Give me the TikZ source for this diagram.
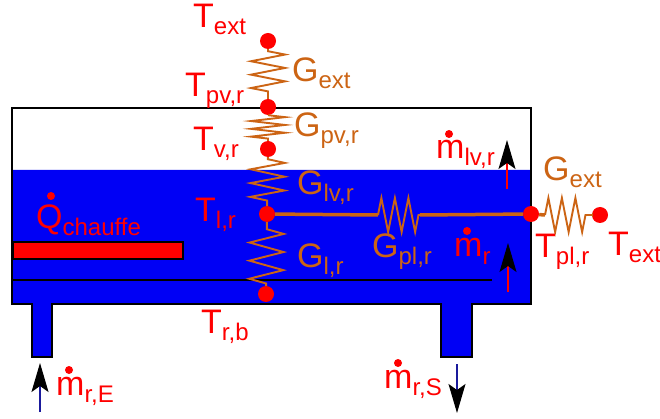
\documentclass[tikz,border=0pt]{standalone}
\usepackage{xcolor}
\usepackage{fontspec}
\setmainfont{Liberation Sans}
\usetikzlibrary{arrows.meta, decorations.pathmorphing}
\definecolor{TankBlue}{HTML}{0000F5}
\definecolor{SpringBrown}{HTML}{CC6414}
\definecolor{FlowNavy}{HTML}{1A1A9C}
\newcommand{\sublab}[2]{#1{\fontsize{24}{24}\selectfont\raisebox{-7pt}{#2}}}
\tikzset{
  lab/.style={anchor=base west, inner sep=0pt, font=\fontsize{34}{34}\selectfont},
  templab/.style={lab, text=red},
  condlab/.style={lab, text=SpringBrown},
  point/.style={circle, fill=red, inner sep=0pt, minimum size=16pt},
  spring/.style n args={3}{draw=SpringBrown, line width=1.9pt, decorate,
    decoration={zigzag, amplitude=17pt, segment length=#1, pre length=#2, post length=#3}},
  wire/.style={draw=SpringBrown, line width=3.5pt},
  flow/.style={line width=1.1pt, -{Stealth[black, length=29pt, width=17pt, inset=6pt]}}
}
\begin{document}
\begin{tikzpicture}[x=1pt, y=-1pt]
      \useasboundingbox (0,0) rectangle (660,419);
      % Tank
      \fill[TankBlue] (12,170) -- (531,170) -- (531,304) -- (472,304) -- (472,357) -- (441,357) -- (441,304)
        -- (52,304) -- (52,357) -- (32,357) -- (32,304) -- (12,304) -- cycle;
      \draw[black, line width=2.5pt] (12,108) -- (531,108) -- (531,304) -- (472,304) -- (472,357) -- (441,357) -- (441,304)
        -- (52,304) -- (52,357) -- (32,357) -- (32,304) -- (12,304) -- cycle;
      \draw[black, line width=2pt] (12,280) -- (492,280);
      \draw[black, line width=2.5pt, fill=red] (13,242) rectangle (183,259);
      % Points
      \node[point] (textop) at (268,41) {};
      \node[point] (tpvr) at (268,107) {};
      \node[point] (tvr) at (268,149) {};
      \node[point] (tlr) at (267,214) {};
      \node[point] (trb) at (266,294) {};
      \node[point] (tplr) at (531,214) {};
      \node[point] (texright) at (600,215) {};
      \coordinate (gplin) at (378,215);
      \coordinate (gplout) at (420,215);
      \coordinate (gexin) at (545,215);
      \coordinate (gexout) at (592,215);
      % Conductances
      \draw[spring={13.4pt}{2pt}{7pt}] (textop) -- (tpvr);
      \draw[spring={7.8pt}{0pt}{2pt}] (tpvr) -- (tvr);
      \draw[spring={13.8pt}{2pt}{5pt}] (tvr) -- (tlr);
      \draw[spring={18.1pt}{7pt}{2pt}] (tlr) -- (trb);
      \draw[wire] (tlr) -- (gplin);
      \draw[wire] (gplout) -- (tplr);
      \draw[spring={13.5pt}{0pt}{0pt}] (gplin) -- (gplout);
      \draw[wire] (tplr) -- (gexin);
      \draw[wire] (gexout) -- (texright);
      \draw[spring={13.5pt}{0pt}{0pt}] (gexin) -- (gexout);
      % Flows
      \coordinate (mlvfrom) at (507,189);
      \coordinate (mlvto) at (507,140);
      \coordinate (mrfrom) at (508,292);
      \coordinate (mrto) at (508,243);
      \coordinate (mrefrom) at (40,412);
      \coordinate (mreto) at (40,363);
      \coordinate (mrsfrom) at (457,364);
      \coordinate (mrsto) at (457,413);
      \draw[flow, red] (mlvfrom) -- (mlvto);
      \draw[flow, red] (mrfrom) -- (mrto);
      \draw[flow, FlowNavy] (mrefrom) -- (mreto);
      \draw[flow, FlowNavy] (mrsfrom) -- (mrsto);
      % Temperatures
      \node[templab] (ltext) at (193,28) {\sublab{T}{ext}};
      \node[templab] (ltpv) at (185,97) {\sublab{T}{pv,r}};
      \node[templab] (ltv) at (193,151) {\sublab{T}{v,r}};
      \node[templab] (ltl) at (195,222) {\sublab{T}{l,r}};
      \node[templab] (ltb) at (201,333) {\sublab{T}{r,b}};
      \node[templab] (ltpl) at (535,258) {\sublab{T}{pl,r}};
      \node[templab] (ltextr) at (608,255) {\sublab{T}{ext}};
      % Conductance labels
      \node[condlab] (lgext) at (292,82) {\sublab{G}{ext}};
      \node[condlab] (lgpv) at (294,137) {\sublab{G}{pv,r}};
      \node[condlab] (lglv) at (297,195) {\sublab{G}{lv,r}};
      \node[condlab] (lgl) at (297,267) {\sublab{G}{l,r}};
      \node[condlab] (lgpl) at (372,258) {\sublab{G}{pl,r}};
      \node[condlab] (lgextr) at (543,181) {\sublab{G}{ext}};
      % Flow labels
      \node[templab] (lmlv) at (436,159) {\sublab{m}{lv,r}};
      \node[templab] (lmr) at (454,257) {\sublab{m}{r}};
      \node[templab] (lmre) at (56,395) {\sublab{m}{r,E}};
      \node[templab] (lmrs) at (384,388) {\sublab{m}{r,S}};
      \node[templab] (lqch) at (36,229) {\sublab{Q}{chauffe}};
      \fill[red] (449,134) circle (4);
      \fill[red] (467,231) circle (4);
      \fill[red] (69,370) circle (4);
      \fill[red] (398,363) circle (4);
      \fill[red] (51,196) circle (4);
    \end{tikzpicture}
\end{document}
